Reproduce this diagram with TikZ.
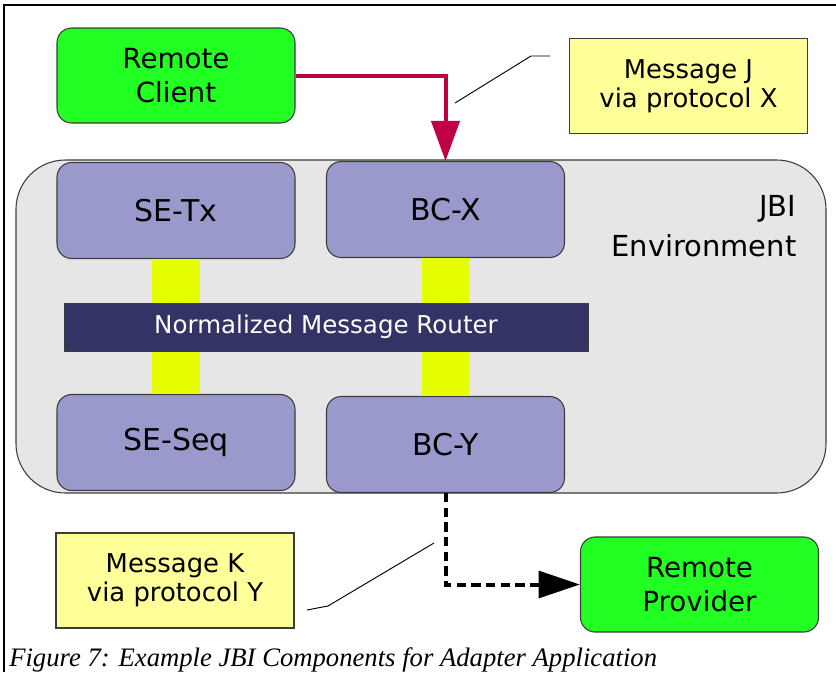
\documentclass[tikz,border=0pt]{standalone}
\usepackage{fontspec}
\setmainfont{Liberation Serif}
\setsansfont{DejaVu Sans}
\usetikzlibrary{arrows.meta}
\definecolor{clientgreen}{RGB}{34,255,34}
\definecolor{compblue}{RGB}{153,153,204}
\definecolor{envgray}{RGB}{230,230,230}
\definecolor{routerblue}{RGB}{51,51,102}
\definecolor{linkyellow}{RGB}{230,255,0}
\definecolor{notecol}{RGB}{255,255,153}
\definecolor{flowred}{RGB}{190,0,70}
\definecolor{edgegray}{RGB}{60,60,60}
\tikzset{
  remotebox/.style={draw=edgegray, line width=0.8pt, fill=clientgreen, rounded corners=11pt,
    minimum width=238*0.75pt, minimum height=95*0.75pt, align=center,
    font=\sffamily\fontsize{20.8}{25.5}\selectfont},
  compbox/.style={draw=edgegray, line width=0.8pt, fill=compblue, rounded corners=11pt,
    minimum width=238*0.75pt, minimum height=96*0.75pt, align=center,
    font=\sffamily\fontsize{22.5}{27}\selectfont},
  notebox/.style={draw=edgegray, line width=0.8pt, fill=notecol,
    minimum width=238*0.75pt, minimum height=95*0.75pt, align=center,
    font=\sffamily\fontsize{19.4}{21.5}\selectfont},
  calloutline/.style={draw=black, line width=0.7pt},
  flowarrow/.style={draw=flowred, line width=3pt,
    -{Triangle[width=21pt,length=30pt,fill=flowred]}},
  dasharrow/.style={draw=black, line width=3pt, dash pattern=on 7pt off 4pt,
    -{Triangle[width=20pt,length=31pt,fill=black]}},
}
\begin{document}
\begin{tikzpicture}[x=0.75pt,y=-0.75pt]
\useasboundingbox (0,0) rectangle (836,672);
% figure frame
\draw[line width=1.2pt] (4,672) -- (4,5) -- (836,5);

% JBI environment
\node[draw=edgegray, line width=0.8pt, fill=envgray, rounded corners=37pt,
  minimum width=810*0.75pt, minimum height=333*0.75pt, inner sep=0pt] (env) at (421,326.5) {};
\node[anchor=east, align=right, font=\sffamily\fontsize{21.7}{30}\selectfont] (envlabel) at (801,226) {JBI\\Environment};

% components
\node[compbox] (setx) at (176,210.5) {SE-Tx};
\node[compbox] (bcx) at (445.5,209.5) {BC-X};
\node[compbox] (seseq) at (176,442.5) {SE-Seq};
\node[compbox] (bcy) at (445.5,444.5) {BC-Y};

% links through the router
\fill[linkyellow] ([xshift=-18pt]setx.south) rectangle ([xshift=18pt]seseq.north);
\fill[linkyellow] ([xshift=-17.6pt]bcx.south) rectangle ([xshift=17.6pt]bcy.north);

% normalized message router
\node[draw=edgegray, line width=0.6pt, fill=routerblue, text=white,
  minimum width=524*0.75pt, minimum height=48*0.75pt, inner sep=0pt,
  font=\sffamily\fontsize{18.4}{22}\selectfont] (nmr) at (326,327) {Normalized Message Router};

% remote parties
\node[remotebox] (client) at (176,75.5) {Remote\\Client};
\node[remotebox] (provider) at (699.5,584.5) {Remote\\Provider};

% message notes
\node[notebox] (noteJ) at (688.5,86) {Message J\\via protocol X};
\node[notebox] (noteK) at (175,580.5) {Message K\\via protocol Y};

% message flows
\draw[flowarrow] (client.east) -| (bcx.north);
\draw[dasharrow] (bcy.south) |- (provider.west);

% callout lines
\coordinate (cJa) at (455,103);
\coordinate (cJb) at (531,56);
\coordinate (cJc) at (550,56);
\draw[calloutline] (cJa) -- (cJb) -- (cJc);
\coordinate (cKa) at (434,543);
\coordinate (cKb) at (328,606);
\coordinate (cKc) at (307,610);
\draw[calloutline] (cKa) -- (cKb) -- (cKc);

% caption
\node[anchor=base west, inner sep=0pt, font=\itshape\fontsize{20}{24}\selectfont] (caption) at (9,666)
  {Figure 7: Example JBI Components for Adapter Application};
\end{tikzpicture}
\end{document}
